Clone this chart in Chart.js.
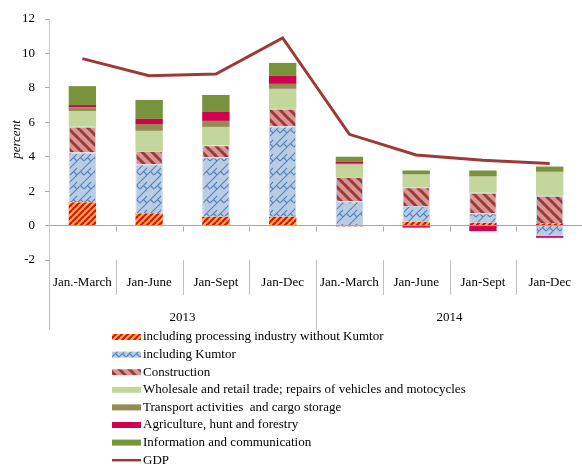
<!DOCTYPE html>
<html>
<head>
<meta charset="utf-8">
<script src="https://cdn.jsdelivr.net/npm/chart.js@4/dist/chart.umd.min.js"></script>
<style>
  html, body { margin: 0; padding: 0; overflow: hidden; background: #fff; }
  #wrap { width: 586px; height: 466px; position: relative; }
</style>
</head>
<body>
<div id="wrap"><canvas id="gdpChart"></canvas></div>
<script>
const periods = ['Jan.-March', 'Jan-June', 'Jan-Sept', 'Jan-Dec', 'Jan.-March', 'Jan-June', 'Jan-Sept', 'Jan-Dec'];
const years = ['2013', '2014'];

// contributions to growth, percentage points
const processing   = [1.35, 0.71, 0.51, 0.51, -0.05, 0.22, 0.16, 0.13];
const kumtor       = [2.90, 2.85, 3.46, 5.24, 1.40, 0.91, 0.55, -0.61];
const construction = [1.49, 0.77, 0.70, 1.03, 1.42, 1.09, 1.20, 1.60];
const wholesale    = [0.91, 1.17, 1.06, 1.16, 0.72, 0.74, 0.93, 1.35];
const transport    = [0.23, 0.40, 0.35, 0.29, 0.05, 0.03, 0.03, 0.05];
const agriculture  = [0.12, 0.30, 0.52, 0.47, 0.12, -0.12, -0.32, -0.10];
const information  = [1.10, 1.10, 0.99, 0.75, 0.29, 0.21, 0.33, 0.30];
const gdp          = [9.7, 8.7, 8.8, 10.9, 5.3, 4.1, 3.8, 3.6];

const serif = "'Liberation Serif', 'Times New Roman', serif";

// small repeating tiles for the hatched fills
function makeTile(size, bg, draw) {
  const c = document.createElement('canvas');
  c.width = size; c.height = size;
  const g = c.getContext('2d');
  g.fillStyle = bg;
  g.fillRect(0, 0, size, size);
  for (const dx of [-size, 0, size]) {
    for (const dy of [-size, 0, size]) {
      g.save(); g.translate(dx, dy); draw(g, size); g.restore();
    }
  }
  return g.createPattern(c, 'repeat');
}

const hatchProcessing = makeTile(6, '#ffc000', (g, s) => {
  g.strokeStyle = '#da0a3c'; g.lineWidth = 2.2;
  g.beginPath(); g.moveTo(0, s); g.lineTo(s, 0); g.stroke();
});

// diagonal brick weave
const hatchKumtor = makeTile(14, '#b8cce4', (g, s) => {
  g.strokeStyle = '#5583bd'; g.lineWidth = 1.1;
  g.beginPath();
  g.moveTo(0, 7); g.lineTo(7, 0);
  g.moveTo(0, 14); g.lineTo(14, 0);
  g.moveTo(3.5, 3.5); g.lineTo(7, 7);
  g.moveTo(10.5, 3.5); g.lineTo(14, 7);
  g.stroke();
});

const hatchConstruction = makeTile(10, '#d99694', (g, s) => {
  g.strokeStyle = '#983a37'; g.lineWidth = 3;
  g.beginPath(); g.moveTo(0, 0); g.lineTo(s, s); g.stroke();
});

function barSet(label, data, fill, border) {
  return {
    type: 'bar', label, data,
    backgroundColor: fill,
    borderColor: border || fill,
    borderWidth: border ? 1 : 0,
    barPercentage: 0.41,
    categoryPercentage: 1,
    stack: 'sectors',
    order: 1,
  };
}

// x-axis group labels, dividers, zero-line ticks and the list legend
const decorations = {
  id: 'decorations',
  afterDraw(chart) {
    const { ctx, chartArea: area, scales: { y } } = chart;
    const n = periods.length;
    const step = (area.right - area.left) / n;
    const y0 = Math.round(y.getPixelForValue(0)) + 0.5;
    ctx.save();
    ctx.lineWidth = 1;

    ctx.strokeStyle = '#a6a6a6';
    ctx.beginPath();
    for (let i = 1; i <= n; i++) {
      const x = Math.round(area.left + i * step) + 0.5;
      ctx.moveTo(x, y0); ctx.lineTo(x, y0 + 5);
    }
    ctx.stroke();

    ctx.strokeStyle = '#bfbfbf';
    ctx.beginPath();
    for (let i = 0; i <= n; i++) {
      const x = Math.round(area.left + i * step) + 0.5;
      ctx.moveTo(x, area.bottom);
      ctx.lineTo(x, i % 4 === 0 ? 330 : 295);
    }
    ctx.stroke();

    ctx.fillStyle = '#000';
    ctx.font = '13px ' + serif;
    ctx.textAlign = 'center';
    ctx.textBaseline = 'middle';
    years.forEach((yr, g) => {
      ctx.fillText(yr, area.left + (g * 4 + 2) * step, 318);
    });

    ctx.textAlign = 'left';
    chart.data.datasets.forEach((ds, i) => {
      const ly = 337 + i * 17.6;
      if (ds.type === 'line') {
        ctx.strokeStyle = ds.borderColor;
        ctx.lineWidth = 2.5;
        ctx.beginPath(); ctx.moveTo(112, ly); ctx.lineTo(141, ly); ctx.stroke();
      } else {
        ctx.fillStyle = ds.backgroundColor;
        ctx.fillRect(112, ly - 3, 29, 6);
      }
      ctx.fillStyle = '#000';
      ctx.fillText(ds.label, 143, ly);
    });
    ctx.restore();
  }
};

new Chart(document.getElementById('gdpChart'), {
  data: {
    labels: periods,
    datasets: [
      barSet('including processing industry without Kumtor', processing, hatchProcessing),
      barSet('including Kumtor', kumtor, hatchKumtor, '#c6d4ea'),
      barSet('Construction', construction, hatchConstruction, '#c6d4ea'),
      barSet('Wholesale and retail trade; repairs of vehicles and motocycles', wholesale, '#c3d69b'),
      barSet('Transport activities  and cargo storage', transport, '#948a54'),
      barSet('Agriculture, hunt and forestry', agriculture, '#d0004f'),
      barSet('Information and communication', information, '#77933c'),
      {
        type: 'line', label: 'GDP', data: gdp,
        borderColor: '#9e3a35', backgroundColor: '#9e3a35',
        borderWidth: 3, pointRadius: 0, tension: 0,
        stack: 'gdp', order: 0,
      },
    ],
  },
  options: {
    responsive: true,
    maintainAspectRatio: false,
    animation: false,
    layout: { padding: { top: 19, right: 0, bottom: 0, left: 0 } },
    plugins: { legend: { display: false }, tooltip: { enabled: false } },
    scales: {
      x: {
        stacked: true,
        grid: { display: false, drawTicks: false },
        border: { display: false },
        ticks: { color: '#000', font: { family: serif, size: 13 }, padding: 15, maxRotation: 0, autoSkip: false },
        afterFit: s => { s.height = 206; },
      },
      y: {
        stacked: true,
        min: -2, max: 12,
        ticks: { stepSize: 2, color: '#000', font: { family: serif, size: 13 }, padding: 10 },
        grid: {
          color: c => (c.tick && c.tick.value === 0 ? '#a6a6a6' : 'rgba(0,0,0,0)'),
          tickColor: '#a6a6a6', tickLength: 4,
        },
        border: { color: '#c8c8c8' },
        title: { display: true, text: 'percent', color: '#000', font: { family: serif, size: 13, style: 'italic' }, padding: { top: 9, bottom: 0 } },
        afterFit: s => { s.width = 49; },
      },
    },
  },
  plugins: [decorations],
});
</script>
</body>
</html>
